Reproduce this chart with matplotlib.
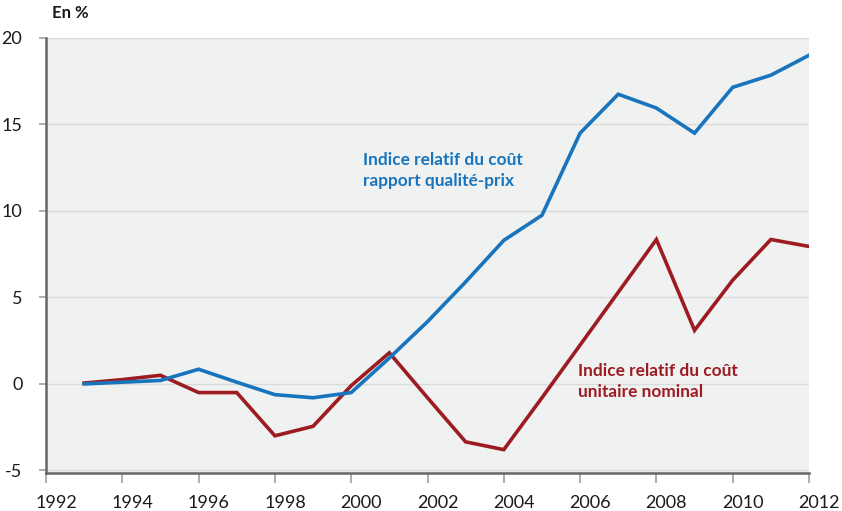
import matplotlib
matplotlib.use("Agg")
import matplotlib.pyplot as plt
from matplotlib.transforms import ScaledTranslation

years = list(range(1993, 2013))
qualite_prix = [0.0, 0.1, 0.2, 0.85, 0.1, -0.62, -0.8, -0.5, 1.5, 3.6,
                5.9, 8.3, 9.75, 14.5, 16.75, 15.95, 14.5, 17.15, 17.85, 19.0]
cout_unitaire = [0.05, 0.25, 0.5, -0.5, -0.5, -3.0, -2.45, -0.1, 1.8, -0.8,
                 -3.35, -3.8, -0.8, 2.25, 5.3, 8.35, 3.1, 6.0, 8.35, 7.95]
x_ticks = list(range(1992, 2013, 2))
y_ticks = [-5, 0, 5, 10, 15, 20]

blue = "#1874BC"
red = "#9C1C22"

plt.rcParams.update({"font.family": ["Lato", "DejaVu Sans"],
                     "axes.unicode_minus": False})

fig = plt.figure(figsize=(8.42, 5.11), dpi=100)
ax = fig.add_axes([46 / 842, 1 - 473 / 511, (809 - 46) / 842, (473 - 38) / 511])
ax.set_facecolor("#F0F1F1")

ax.plot(years, cout_unitaire, color=red, lw=2.6, solid_joinstyle="miter", zorder=3)
ax.plot(years, qualite_prix, color=blue, lw=2.6, solid_joinstyle="miter", zorder=4)

ax.set_xlim(1992, 2012)
ax.set_ylim(-5.15, 20)
ax.set_xticks(x_ticks)
ax.set_yticks(y_ticks)
ax.yaxis.grid(True, color="#D9DADA", lw=1)
ax.set_axisbelow(True)

for s in ["top", "right"]:
    ax.spines[s].set_visible(False)
for s in ["left", "bottom"]:
    ax.spines[s].set_color("#666666")
    ax.spines[s].set_linewidth(1.8)

ax.tick_params(axis="both", colors="#999999", labelcolor="#1a1a1a",
               labelsize=13, width=1.1)
ax.tick_params(axis="x", length=7, pad=9)
ax.tick_params(axis="y", length=5, pad=12)

# the year labels sit a little right of their ticks in the original
shift = ScaledTranslation(10 / 100, 0, fig.dpi_scale_trans)
for lab in ax.get_xticklabels():
    lab.set_transform(lab.get_transform() + shift)

ax.text(2000.3, 13.4, "Indice relatif du coût\nrapport qualité-prix",
        color=blue, fontsize=12.4, fontweight="bold", ha="left", va="top",
        linespacing=1.38)
ax.text(2005.95, 1.2, "Indice relatif du coût\nunitaire nominal",
        color=red, fontsize=12.4, fontweight="bold", ha="left", va="top",
        linespacing=1.38)

fig.text(52 / 842, 1 - 13 / 511, "En %", fontsize=12, fontweight="bold",
         ha="left", va="center", color="#1a1a1a")

fig.savefig("out.png", dpi=100)
